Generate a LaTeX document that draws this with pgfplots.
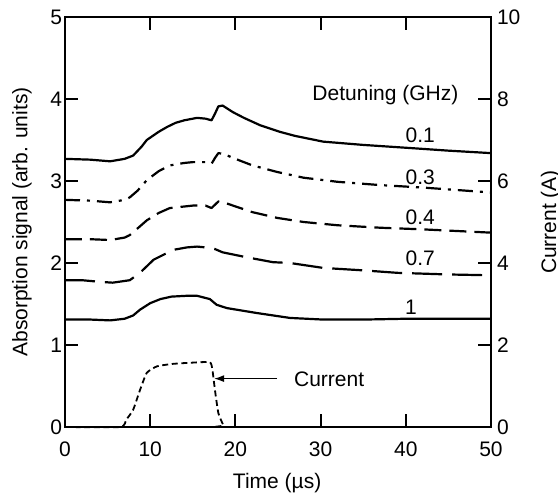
\documentclass[border=0pt]{standalone}
\usepackage{fontspec}
\setmainfont{Liberation Sans}
\usepackage{pgfplots}
\pgfplotsset{compat=1.18}
\usetikzlibrary{arrows.meta}

\pgfplotsset{
  every axis/.append style={
    font=\fontsize{10.5}{12}\selectfont,
    tick label style={font=\fontsize{10.5}{12}\selectfont},
    label style={font=\fontsize{10.5}{12}\selectfont},
    /pgf/number format/assume math mode=true,
  },
  curve/.style={black, line width=1.1pt, line join=round},
}

\begin{document}
\begin{tikzpicture}
\begin{axis}[
  name=main,
  width=213pt, height=205pt, scale only axis,
  xmin=0, xmax=50, ymin=0, ymax=5,
  xtick={0,10,...,50}, ytick={0,...,5},
  xtick pos=both, ytick pos=both,
  tick align=inside, tickwidth=6.5pt,
  axis line style={line width=1.1pt},
  xtick style={draw=black, line width=1pt},
  ytick style={draw=black, line width=1pt},
  xticklabel style={yshift=-4pt},
  yticklabel style={xshift=2pt},
  xlabel={Time (µs)},
  ylabel={Absorption signal (arb. units)},
  xlabel style={at={(axis description cs:0.498,-0.138)}, anchor=center},
  ylabel style={at={(axis description cs:-0.101,0.5)}, anchor=center},
  clip=false,
]
% 0.1 GHz
\addplot[curve, solid] coordinates {
  (0,3.27)(3,3.26)(5.3,3.24)(7,3.27)(8,3.31)(9,3.42)(9.6,3.50)(11,3.60)
  (12,3.66)(13,3.71)(14,3.74)(15.5,3.77)(16.5,3.76)(17.2,3.74)(17.6,3.82)
  (18,3.91)(18.5,3.92)(19.7,3.84)(21,3.77)(22.9,3.68)(25.2,3.60)(27,3.55)
  (30.3,3.48)(35,3.44)(40.8,3.40)(45,3.37)(50,3.34)};
% 0.3 GHz
\addplot[curve, dash pattern=on 7.5pt off 3.5pt on 1.5pt off 3.5pt] coordinates {
  (0,2.77)(3,2.76)(5.3,2.74)(7,2.77)(7.6,2.80)(8.5,2.88)(9.6,3.01)(11,3.12)
  (12.3,3.19)(14,3.22)(15,3.23)(16.5,3.23)(17.2,3.21)(17.6,3.28)(18,3.34)
  (18.6,3.33)(20,3.27)(22,3.19)(24.9,3.11)(28,3.04)(32,2.99)(37,2.95)
  (42,2.92)(46,2.89)(50,2.86)};
% 0.4 GHz
\addplot[curve, dash pattern=on 8.5pt off 4pt] coordinates {
  (0,2.29)(3,2.29)(5.3,2.28)(7,2.31)(7.6,2.34)(8.5,2.42)(9.6,2.52)(11,2.61)
  (12.3,2.67)(15,2.70)(16.5,2.70)(17.2,2.67)(17.6,2.71)(18,2.75)(18.6,2.74)
  (20,2.69)(22,2.62)(24.9,2.55)(28,2.50)(32,2.46)(37,2.43)(42,2.41)
  (46,2.39)(50,2.37)};
% 0.7 GHz
\addplot[curve, dash pattern=on 15pt off 5pt] coordinates {
  (0,1.79)(2,1.79)(4.1,1.77)(5.6,1.76)(7.6,1.79)(8.8,1.88)(10.4,2.04)
  (12.7,2.16)(14.3,2.19)(15.5,2.20)(16.5,2.19)(17.6,2.17)(18.5,2.13)
  (21.3,2.07)(24.4,2.01)(26.4,2.00)(30.3,1.94)(35,1.91)(39,1.88)
  (45,1.86)(50,1.85)};
% 1 GHz
\addplot[curve, solid] coordinates {
  (0,1.31)(3,1.31)(5.3,1.30)(7,1.32)(8,1.36)(8.8,1.43)(10,1.51)(11.2,1.56)
  (12.5,1.59)(14.3,1.60)(15.5,1.60)(17,1.56)(17.8,1.49)(19,1.45)(22.5,1.39)
  (26.4,1.33)(30.3,1.31)(35,1.31)(40,1.32)(45,1.32)(50,1.32)};

\node[anchor=east] at (axis cs:47,4.05) {Detuning (GHz)};
\node at (axis cs:41.7,3.56) {0.1};
\node at (axis cs:41.7,3.05) {0.3};
\node at (axis cs:41.7,2.56) {0.4};
\node at (axis cs:41.7,2.06) {0.7};
\node at (axis cs:40.6,1.46) {1};
\node at (axis cs:31.0,0.58) {Current};
\draw[line width=0.6pt, -{Latex[length=5pt,width=3.5pt]}]
  (axis cs:24.9,0.59) -- (axis cs:17.5,0.59);
\end{axis}

\begin{axis}[
  width=213pt, height=205pt, scale only axis,
  xmin=0, xmax=50, ymin=0, ymax=10,
  axis x line=none,
  axis y line*=right,
  ytick={0,2,...,10},
  ytick style={draw=none},
  axis line style={line width=1.1pt, -},
  yticklabel style={xshift=-0.5pt},
  ylabel={Current (A)},
  ylabel style={at={(axis description cs:1.14,0.5)}, anchor=center, rotate=0},
  clip=false,
]
\addplot[black, line width=0.9pt, dash pattern=on 3pt off 1.8pt, smooth, tension=0.3] coordinates {
  (0,0)(6.5,0)(7.2,0.18)(8.0,0.42)(8.8,0.90)(9.6,1.32)(10.8,1.48)
  (12.7,1.54)(15,1.57)(17,1.58)(17.3,1.40)(17.6,0.90)(18,0.34)
  (18.6,0.04)(19,0)(50,0)};
\end{axis}
\pgfresetboundingbox
\path[use as bounding box]
  ([xshift=-32.5pt,yshift=-34pt]main.south west)
  rectangle ([xshift=33.5pt,yshift=8.5pt]main.north east);
\end{tikzpicture}
\end{document}
